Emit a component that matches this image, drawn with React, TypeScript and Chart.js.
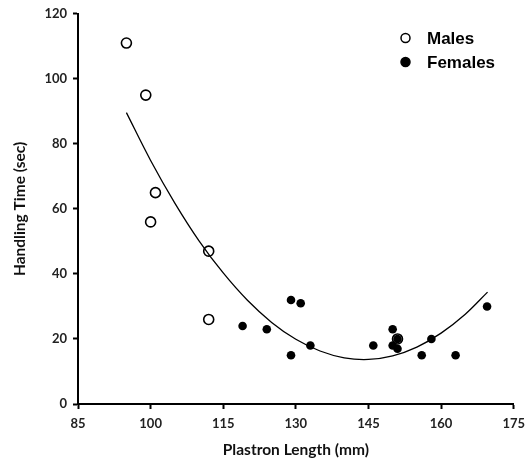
import React, { useEffect, useRef } from "react";
import { Chart, registerables } from "chart.js";

Chart.register(...registerables);

const maleX = [95, 99, 101, 100, 112, 112, 151];
const maleY = [111, 95, 65, 56, 47, 26, 20];

const femaleX = [119, 124, 129, 131, 129, 133, 146, 150, 150, 151, 151, 156, 158, 163, 169.5];
const femaleY = [24, 23, 32, 31, 15, 18, 18, 23, 18, 20, 17, 15, 20, 15, 30];

// trend curve
const trendX = [95, 100, 105, 110, 115, 120, 125, 130, 135, 140, 145, 150, 155, 160, 165, 169.6];
const trendY = [89.6, 74.9, 61.8, 50.2, 40.3, 31.9, 25.1, 19.9, 16.3, 14.2, 13.7, 14.8, 17.5, 21.8, 27.6, 34.4];

const xTicks = [85, 100, 115, 130, 145, 160, 175];
const yTicks = [0, 20, 40, 60, 80, 100, 120];

const legendPlugin = {
  id: "customLegend",
  afterDraw(chart: any) {
    const ctx = chart.ctx;
    const items = chart.data.datasets.filter((d: any) => d.showInLegend);
    const x0 = 405.5;
    let y = 38;
    ctx.save();
    items.forEach((d: any) => {
      ctx.beginPath();
      ctx.arc(x0, y, 4.5, 0, Math.PI * 2);
      ctx.fillStyle = d.legendFill;
      ctx.fill();
      ctx.lineWidth = 1.5;
      ctx.strokeStyle = "#000";
      ctx.stroke();
      ctx.fillStyle = "#000";
      ctx.font = "bold 17px 'Liberation Sans', Arial, sans-serif";
      ctx.textBaseline = "middle";
      ctx.textAlign = "left";
      ctx.fillText(d.label, 427, y + 1);
      y += 24;
    });
    ctx.restore();
  },
};

export default function App() {
  const ref = useRef<HTMLCanvasElement | null>(null);

  useEffect(() => {
    if (!ref.current) return;
    const chart = new Chart(ref.current, {
      type: "scatter",
      data: {
        datasets: [
          {
            type: "scatter",
            label: "Males",
            showInLegend: true,
            legendFill: "#fff",
            data: maleX.map((x, i) => ({ x, y: maleY[i] })),
            pointRadius: 5,
            pointBorderWidth: 1.6,
            pointBorderColor: "#000",
            pointBackgroundColor: "rgba(255,255,255,0)",
            order: 0,
          } as any,
          {
            type: "scatter",
            label: "Females",
            showInLegend: true,
            legendFill: "#000",
            data: femaleX.map((x, i) => ({ x, y: femaleY[i] })),
            pointRadius: 4.3,
            pointBorderWidth: 0,
            pointBackgroundColor: "#000",
            order: 1,
          } as any,
          {
            type: "line",
            label: "Trend",
            data: trendX.map((x, i) => ({ x, y: trendY[i] })),
            borderColor: "#000",
            borderWidth: 1.3,
            pointRadius: 0,
            tension: 0.35,
            fill: false,
            order: 2,
          } as any,
        ],
      },
      options: {
        responsive: false,
        animation: false,
        layout: { padding: { top: 13, right: 18, left: 0, bottom: 0 } },
        plugins: {
          legend: { display: false },
          tooltip: { enabled: false },
        },
        scales: {
          x: {
            type: "linear",
            min: 85,
            max: 175,
            afterBuildTicks: (s: any) => {
              s.ticks = xTicks.map((v) => ({ value: v }));
            },
            afterFit: (s: any) => {
              s.height = 55;
            },
            grid: {
              display: true,
              drawOnChartArea: false,
              drawTicks: true,
              tickLength: 5,
              tickWidth: 2,
              tickColor: "#000",
            },
            border: { display: true, color: "#000", width: 2 },
            ticks: {
              color: "#222",
              font: { family: "Lato", weight: "bold", size: 13 },
              padding: 7,
              maxRotation: 0,
            },
            title: {
              display: true,
              text: "Plastron Length (mm)",
              color: "#111",
              font: { family: "Lato", weight: "bold", size: 15.5 },
              padding: { top: 4, bottom: 0 },
            },
          },
          y: {
            type: "linear",
            min: 0,
            max: 120,
            afterBuildTicks: (s: any) => {
              s.ticks = yTicks.map((v) => ({ value: v }));
            },
            afterFit: (s: any) => {
              s.width = 78;
            },
            grid: {
              display: true,
              drawOnChartArea: false,
              drawTicks: true,
              tickLength: 5,
              tickWidth: 2,
              tickColor: "#000",
            },
            border: { display: true, color: "#000", width: 2 },
            ticks: {
              color: "#222",
              font: { family: "Lato", weight: "bold", size: 13 },
              padding: 6,
            },
            title: {
              display: true,
              text: "Handling Time (sec)",
              color: "#111",
              font: { family: "Lato", weight: "bold", size: 15.5 },
              padding: { top: 11, bottom: 0 },
            },
          },
        },
      },
      plugins: [legendPlugin],
    });
    return () => chart.destroy();
  }, []);

  return (
    <div style={{ position: "fixed", left: 0, top: 0, width: 532, height: 459, background: "#fff" }}>
      <canvas ref={ref} width={532} height={459} />
    </div>
  );
}
